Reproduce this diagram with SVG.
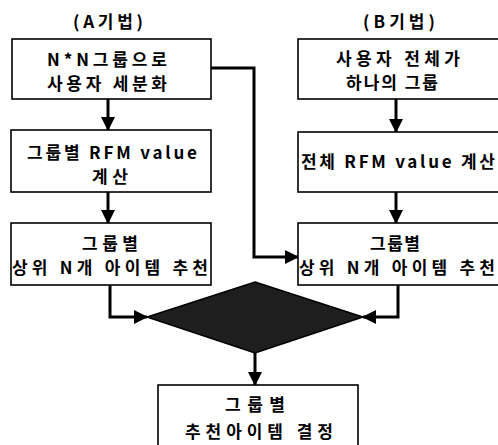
<svg xmlns="http://www.w3.org/2000/svg" width="498" height="445" viewBox="0 0 498 445">
<style>
text{font-family:"Noto Sans CJK KR","Liberation Sans",sans-serif;font-size:17px;fill:#000;text-anchor:middle;font-weight:700}
.box{fill:#fff;stroke:#000;stroke-width:1.6}
.c{fill:none;stroke:#000;stroke-width:3}
</style>
<defs>
<marker id="ah" markerUnits="userSpaceOnUse" markerWidth="14" markerHeight="14" viewBox="0 0 14 14" refX="13" refY="7" orient="auto">
<path d="M0,0 L14,7 L0,14 Z" fill="#000"/>
</marker>
</defs>
<rect width="498" height="445" fill="#fff"/>
<text x="108" y="28" textLength="70" lengthAdjust="spacing">(A기법)</text>
<text x="399" y="28" textLength="72" lengthAdjust="spacing">(B기법)</text>
<g id="connectors">
<path class="c" d="M108,99 V130" marker-end="url(#ah)"/>
<path class="c" d="M108,192 V223" marker-end="url(#ah)"/>
<path class="c" d="M211,68 H254 V257 H298" marker-end="url(#ah)"/>
<path class="c" d="M396,99 V132" marker-end="url(#ah)"/>
<path class="c" d="M396,192 V223" marker-end="url(#ah)"/>
<path class="c" d="M110,285 V317 H147" marker-end="url(#ah)"/>
<path class="c" d="M398,285 V317 H363" marker-end="url(#ah)"/>
<path class="c" d="M255,353 V385" marker-end="url(#ah)"/>
</g>
<g id="a1"><rect class="box" x="12" y="39" width="199" height="60"/>
<text x="107" y="66" textLength="120" lengthAdjust="spacing">N*N그룹으로</text><text x="107" y="90" textLength="120" lengthAdjust="spacing">사용자 세분화</text></g>
<g id="a2"><rect class="box" x="11" y="130" width="200" height="62"/>
<text x="112" y="159" textLength="170" lengthAdjust="spacing">그룹별 RFM value</text><text x="110" y="183" textLength="36" lengthAdjust="spacing">계산</text></g>
<g id="a3"><rect class="box" x="11" y="223" width="200" height="62"/>
<text x="110" y="250" textLength="56" lengthAdjust="spacing">그룹별</text><text x="110" y="274" textLength="196" lengthAdjust="spacing">상위 N개 아이템 추천</text></g>
<g id="b1"><rect class="box" x="298" y="39" width="205" height="60"/>
<text x="398" y="65" textLength="124" lengthAdjust="spacing">사용자 전체가</text><text x="392" y="89" textLength="92" lengthAdjust="spacing">하나의 그룹</text></g>
<g id="b2"><rect class="box" x="298" y="132" width="205" height="60"/>
<text x="398" y="168" textLength="194" lengthAdjust="spacing">전체 RFM value 계산</text></g>
<g id="b3"><rect class="box" x="298" y="223" width="205" height="62"/>
<text x="395" y="250" textLength="50" lengthAdjust="spacing">그룹별</text><text x="397" y="274" textLength="196" lengthAdjust="spacing">상위 N개 아이템 추천</text></g>
<g id="decision"><path d="M255,282 L363,317 L255,353 L147,317 Z" fill="#1e1e1e" stroke="#000" stroke-width="1.5"/></g>
<g id="c1"><rect class="box" x="158" y="385" width="200" height="70"/>
<text x="255" y="411" textLength="60" lengthAdjust="spacing">그룹별</text><text x="259" y="438" textLength="148" lengthAdjust="spacing">추천아이템 결정</text></g>
</svg>
